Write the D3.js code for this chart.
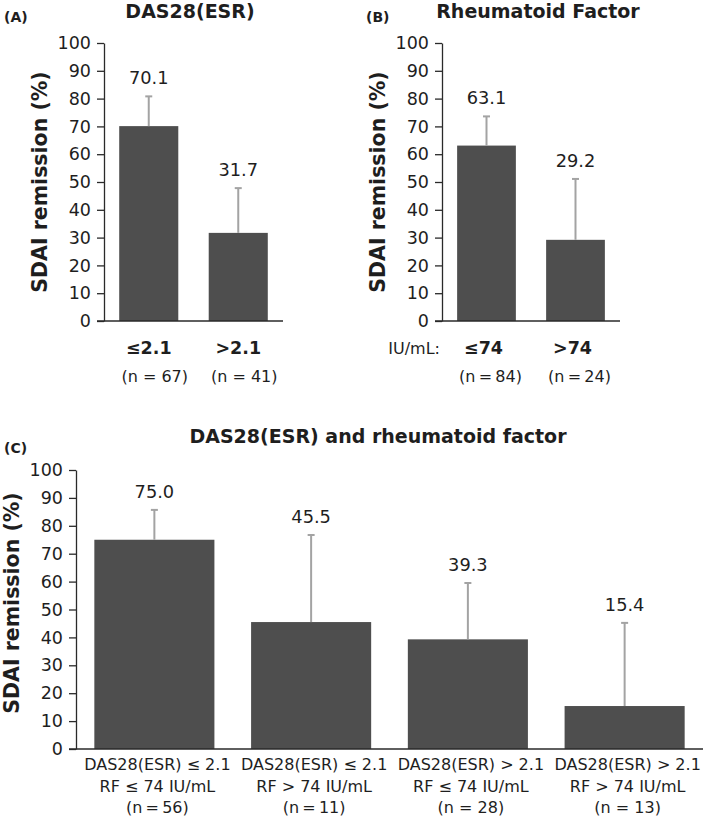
<!DOCTYPE html>
<html>
<head>
<meta charset="utf-8">
<script src="https://cdn.jsdelivr.net/npm/d3@7"></script>
<style>
  html, body { margin: 0; padding: 0; background: #fff; }
  svg { display: block; font-family: "DejaVu Sans", Verdana, sans-serif; }
</style>
</head>
<body>
<svg id="chart" width="709" height="820"></svg>
<script>
// ---------- data ----------
const yTicks = [0, 10, 20, 30, 40, 50, 60, 70, 80, 90, 100];
const yTitle = "SDAI remission (%)";

const panelATitle = "DAS28(ESR)";
const panelACategories = ["≤2.1", ">2.1"];
const panelANs = ["(n = 67)", "(n = 41)"];
const panelAValues = [70.1, 31.7];
const panelAUpper = [80.8, 47.8];

const panelBTitle = "Rheumatoid Factor";
const panelBUnit = "IU/mL:";
const panelBCategories = ["≤74", ">74"];
const panelBNs = ["(n\u2009=\u200984)", "(n\u2009=\u200924)"];
const panelBValues = [63.1, 29.2];
const panelBUpper = [73.6, 51.1];

const panelCTitle = "DAS28(ESR) and rheumatoid factor";
const panelCLine1 = ["DAS28(ESR) ≤ 2.1", "DAS28(ESR) ≤ 2.1", "DAS28(ESR) > 2.1", "DAS28(ESR) > 2.1"];
const panelCLine2 = ["RF ≤ 74 IU/mL", "RF > 74 IU/mL", "RF ≤ 74 IU/mL", "RF > 74 IU/mL"];
const panelCNs = ["(n\u2009=\u200956)", "(n\u2009=\u200911)", "(n = 28)", "(n = 13)"];
const panelCValues = [75.0, 45.5, 39.3, 15.4];
const panelCUpper = [85.7, 76.7, 59.5, 45.2];

// ---------- style ----------
const barColor = "#4e4e4e";
const errColor = "#a3a3a3";
const textColor = "#1e1e1e";
const axisColor = "#2a2a2a";

const svg = d3.select("#chart");

function drawPanel(cfg) {
  const g = svg.append("g");
  const y = d3.scaleLinear().domain([0, 100]).range([cfg.bottom, cfg.top]);
  const idx = cfg.values.map((d, i) => i);
  const x = d3.scaleBand().domain(idx).range([cfg.left, cfg.right])
    .paddingInner(cfg.padInner).paddingOuter(cfg.padInner / 2);

  // y axis
  const yAxis = d3.axisLeft(y).tickValues(yTicks).tickSize(7).tickSizeOuter(0).tickPadding(6);
  const ya = g.append("g").attr("transform", `translate(${cfg.left},0)`).call(yAxis);
  ya.select(".domain").attr("stroke", axisColor).attr("stroke-width", 1.3);
  ya.selectAll(".tick line").attr("stroke", axisColor).attr("stroke-width", 1.3);
  ya.selectAll(".tick text").attr("fill", textColor).style("font-size", "17.5px")
    .style("font-family", '"DejaVu Sans", Verdana, sans-serif');

  // bars
  g.selectAll(".bar").data(idx).enter().append("rect")
    .attr("x", i => x(i)).attr("width", x.bandwidth())
    .attr("y", i => y(cfg.values[i])).attr("height", i => y(0) - y(cfg.values[i]))
    .attr("fill", barColor);

  // error bars
  const cx = i => x(i) + x.bandwidth() / 2;
  g.selectAll(".err").data(idx).enter().append("line")
    .attr("x1", cx).attr("x2", cx)
    .attr("y1", i => y(cfg.values[i])).attr("y2", i => y(cfg.upper[i]))
    .attr("stroke", errColor).attr("stroke-width", 2);
  g.selectAll(".cap").data(idx).enter().append("line")
    .attr("x1", i => cx(i) - 3.5).attr("x2", i => cx(i) + 3.5)
    .attr("y1", i => y(cfg.upper[i])).attr("y2", i => y(cfg.upper[i]))
    .attr("stroke", errColor).attr("stroke-width", 2);

  // value labels
  g.selectAll(".val").data(idx).enter().append("text")
    .attr("x", cx).attr("y", i => y(cfg.upper[i]) - 12)
    .attr("text-anchor", "middle").attr("fill", textColor)
    .style("font-size", "17.8px")
    .text(i => cfg.values[i].toFixed(1));

  // x axis line
  g.append("line").attr("x1", cfg.left - 7).attr("x2", cfg.right)
    .attr("y1", y(0)).attr("y2", y(0))
    .attr("stroke", axisColor).attr("stroke-width", 1.5);

  // y title
  g.append("text")
    .attr("transform", `translate(${cfg.yTitleX},${cfg.yTitleY}) rotate(-90)`)
    .attr("text-anchor", "middle").attr("fill", textColor)
    .style("font-size", "20.5px").style("font-weight", "bold")
    .text(yTitle);

  // title
  g.append("text").attr("x", cfg.titleX).attr("y", cfg.titleY)
    .attr("text-anchor", "middle").attr("fill", textColor)
    .style("font-size", "19px").style("font-weight", "bold").text(cfg.title);

  // panel letter
  g.append("text").attr("x", cfg.letterX).attr("y", cfg.letterY)
    .attr("fill", textColor).style("font-size", "14px").style("font-weight", "bold")
    .text(cfg.letter);

  return { g, x, y, cx };
}

// Panel A
const A = drawPanel({
  left: 104, right: 283, top: 43, bottom: 321, padInner: 0.34,
  values: panelAValues, upper: panelAUpper,
  yTitleX: 47, yTitleY: 182, title: panelATitle, titleX: 190, titleY: 18,
  letter: "(A)", letterX: 4, letterY: 22
});
A.g.selectAll(".cat").data(panelACategories).enter().append("text")
  .attr("x", (d, i) => A.cx(i)).attr("y", 354).attr("text-anchor", "middle")
  .attr("fill", textColor).style("font-size", "17.5px").style("font-weight", "bold").text(d => d);
A.g.selectAll(".n").data(panelANs).enter().append("text")
  .attr("x", (d, i) => A.cx(i) + 6).attr("y", 382).attr("text-anchor", "middle")
  .attr("fill", textColor).style("font-size", "16px").text(d => d);

// Panel B
const B = drawPanel({
  left: 442, right: 620, top: 43, bottom: 321, padInner: 0.34,
  values: panelBValues, upper: panelBUpper,
  yTitleX: 385, yTitleY: 182, title: panelBTitle, titleX: 538, titleY: 18,
  letter: "(B)", letterX: 366, letterY: 22
});
B.g.selectAll(".cat").data(panelBCategories).enter().append("text")
  .attr("x", (d, i) => B.cx(i) - 3).attr("y", 354).attr("text-anchor", "middle")
  .attr("fill", textColor).style("font-size", "17.5px").style("font-weight", "bold").text(d => d);
B.g.append("text").attr("x", 440).attr("y", 354).attr("text-anchor", "end")
  .attr("fill", textColor).style("font-size", "16px").text(panelBUnit);
B.g.selectAll(".n").data(panelBNs).enter().append("text")
  .attr("x", (d, i) => B.cx(i) + 4).attr("y", 382).attr("text-anchor", "middle")
  .attr("fill", textColor).style("font-size", "16px").text(d => d);

// Panel C
const C = drawPanel({
  left: 76, right: 703, top: 470, bottom: 749, padInner: 0.234,
  values: panelCValues, upper: panelCUpper,
  yTitleX: 19, yTitleY: 603, title: panelCTitle, titleX: 378, titleY: 443,
  letter: "(C)", letterX: 4, letterY: 453
});
[panelCLine1, panelCLine2, panelCNs].forEach((arr, k) => {
  C.g.selectAll(".cl" + k).data(arr).enter().append("text")
    .attr("x", (d, i) => C.cx(i) + 3).attr("y", 770 + k * 21.5).attr("text-anchor", "middle")
    .attr("fill", textColor).style("font-size", "16px").text(d => d);
});
</script>
</body>
</html>
